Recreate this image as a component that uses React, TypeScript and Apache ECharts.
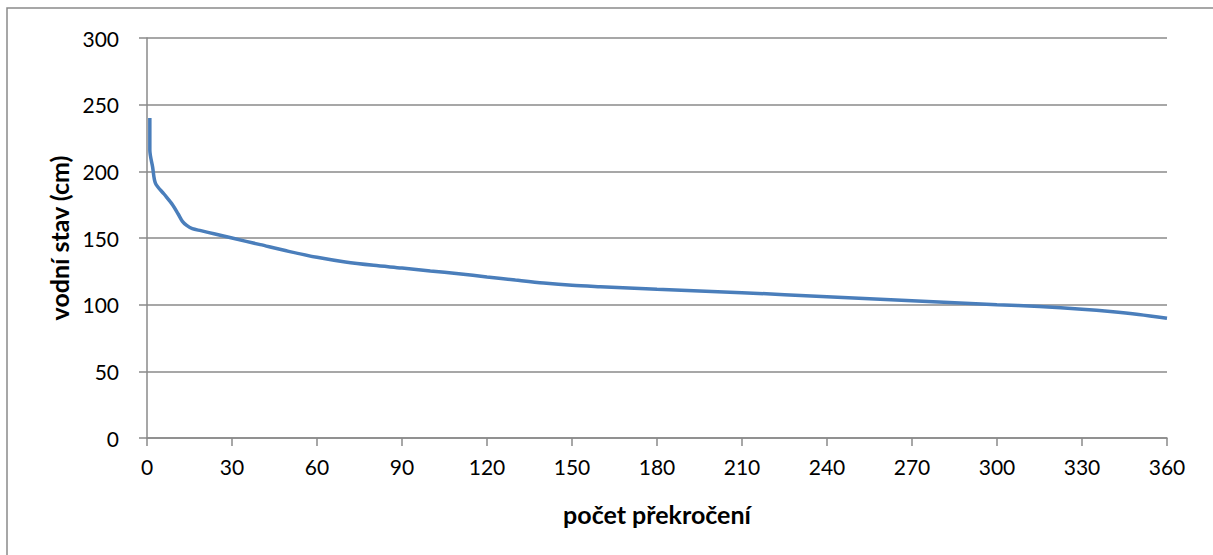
import React, { useEffect, useRef } from "react";
import * as echarts from "echarts";

const exceedCount: number[] = [1, 1, 2, 3, 6, 9, 11, 12.5, 14, 16, 19, 24, 30, 40, 50, 60, 70, 80, 90, 100, 110, 120, 130, 140, 150, 160, 180, 210, 240, 270, 300, 315, 330, 340, 350, 360];
const waterLevel: number[] = [240, 216, 203, 191, 183, 175, 168, 162.5, 159.5, 157, 155.5, 153, 150, 145, 140, 135.5, 132, 129.5, 127.5, 125.3, 123.2, 120.8, 118.5, 116.3, 114.6, 113.5, 111.5, 109, 106, 103, 100, 98.6, 96.6, 94.9, 92.7, 89.8];

const xTicks: number[] = [0, 30, 60, 90, 120, 150, 180, 210, 240, 270, 300, 330, 360];
const yTicks: number[] = [0, 50, 100, 150, 200, 250, 300];

const FONT = "Lato, 'Open Sans', sans-serif";

export default function App() {
  const ref = useRef<HTMLDivElement>(null);
  useEffect(() => {
    if (!ref.current) return;
    const chart = echarts.init(ref.current, undefined, { renderer: "svg" });
    const data = exceedCount.map((x, i) => [x, waterLevel[i]]);
    chart.setOption({
      animation: false,
      backgroundColor: "#ffffff",
      graphic: [
        {
          type: "rect",
          shape: { x: 7, y: 8, width: 1230, height: 570 },
          style: { fill: "none", stroke: "#8a8a8a", lineWidth: 1.5 },
          silent: true,
        },
      ],
      grid: { left: 147, right: 46, top: 38, bottom: 117, containLabel: false },
      xAxis: {
        type: "value",
        min: xTicks[0],
        max: xTicks[xTicks.length - 1],
        interval: 30,
        name: "počet překročení",
        nameLocation: "middle",
        nameGap: 63,
        nameTextStyle: { fontFamily: FONT, fontWeight: "bold", fontSize: 25, color: "#000" },
        axisLine: { show: true, lineStyle: { color: "#8a8a8a", width: 1.5 } },
        axisTick: { show: true, length: 8, inside: false, lineStyle: { color: "#8a8a8a", width: 1.5 } },
        axisLabel: { fontFamily: FONT, fontSize: 21, color: "#000", margin: 18 },
        splitLine: { show: false },
      },
      yAxis: {
        type: "value",
        min: yTicks[0],
        max: yTicks[yTicks.length - 1],
        interval: 50,
        name: "vodní stav (cm)",
        nameLocation: "middle",
        nameGap: 74,
        nameRotate: 90,
        nameTextStyle: { fontFamily: FONT, fontWeight: "bold", fontSize: 25, color: "#000" },
        axisLine: { show: true, lineStyle: { color: "#8a8a8a", width: 1.5 } },
        axisTick: { show: true, length: 8, inside: false, lineStyle: { color: "#8a8a8a", width: 1.5 } },
        axisLabel: { fontFamily: FONT, fontSize: 21, color: "#000", margin: 28 },
        splitLine: { show: true, lineStyle: { color: "#8a8a8a", width: 1.5 } },
      },
      series: [
        {
          type: "line",
          data,
          smooth: 0.3,
          showSymbol: false,
          symbol: "none",
          lineStyle: { color: "#4a7ebb", width: 3.5 },
        },
      ],
    });
    return () => chart.dispose();
  }, []);
  return (
    <div
      ref={ref}
      style={{ position: "fixed", left: 0, top: 0, width: 1213, height: 555, background: "#fff" }}
    />
  );
}
